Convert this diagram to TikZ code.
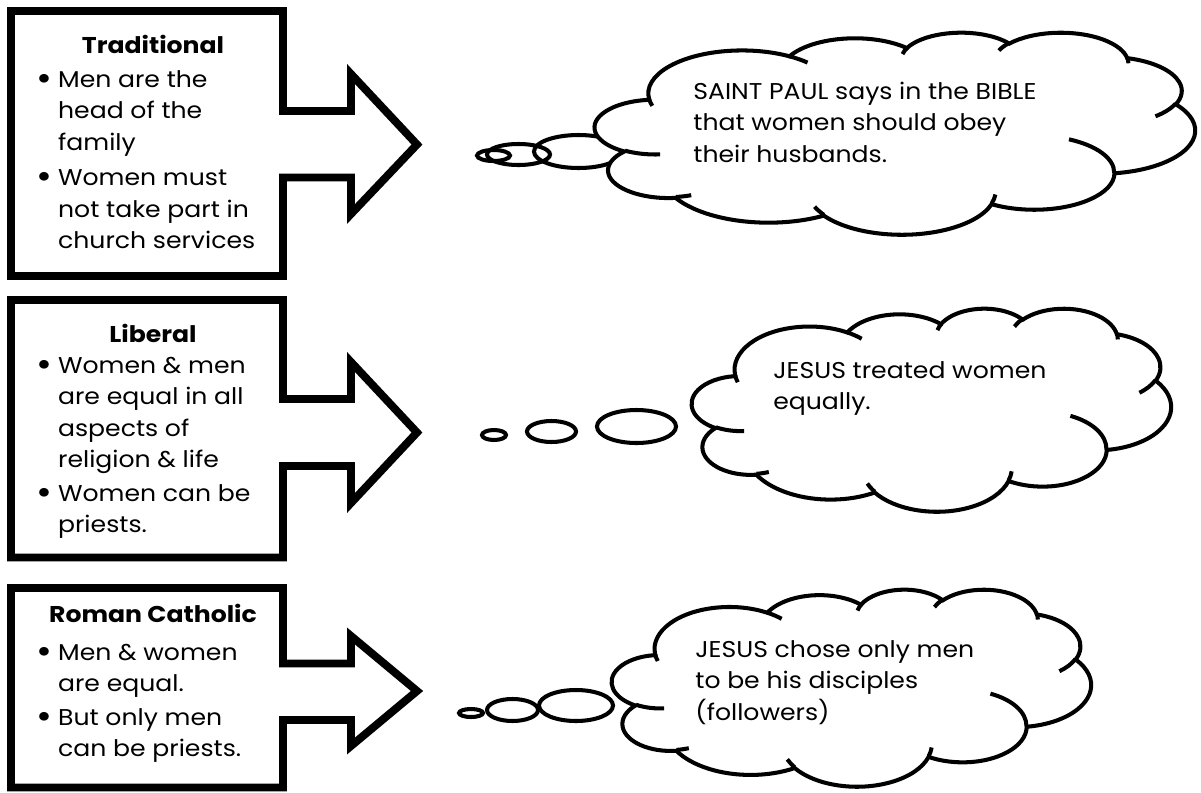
\documentclass[tikz,border=0pt]{standalone}
\usepackage{fontspec}
\setmainfont{Poppins}[FakeStretch=1.1]

\begin{document}
\begin{tikzpicture}[x=0.02cm, y=-0.02cm]
\useasboundingbox (0,0) rectangle (1201,792);

\tikzset{
  viewline/.style={line width=4.5pt, line join=miter, draw=black, fill=white},
  cloudline/.style={line width=2.3pt, draw=black},
  viewtitle/.style={anchor=base, inner sep=0pt, font=\fontsize{13}{18}\selectfont\bfseries},
  viewlist/.style={anchor=base west, inner sep=0pt, font=\fontsize{13}{18}\selectfont},
  thought/.style={anchor=base west, inner sep=0pt, font=\fontsize{13}{18}\selectfont},
  thoughtcloud/.pic={
    % outline of the cloud, eleven puffs
    \draw [cloudline, fill=white] (39.00,143.70)
      arc[start angle=-187.74, delta angle=128.10, x radius=67.53, y radius=91.90]
      arc[start angle=-152.02, delta angle=106.59, x radius=53.33, y radius=72.67]
      arc[start angle=-153.49, delta angle=116.17, x radius=43.65, y radius=59.45]
      arc[start angle=-139.69, delta angle=129.48, x radius=48.57, y radius=65.95]
      arc[start angle=-74.77, delta angle=97.98, x radius=53.33, y radius=72.73]
      arc[start angle=-37.52, delta angle=119.38, x radius=67.75, y radius=92.20]
      arc[start angle=0.46, delta angle=121.52, x radius=57.85, y radius=78.67]
      arc[start angle=16.84, delta angle=129.41, x radius=67.52, y radius=92.15]
      arc[start angle=58.98, delta angle=91.22, x radius=77.20, y radius=105.43]
      arc[start angle=83.31, delta angle=139.81, x radius=43.60, y radius=59.18]
      arc[start angle=120.35, delta angle=143.76, x radius=43.45, y radius=59.45]
      -- cycle;
    % short inner strokes
    \draw [cloudline] (46.93,261.77) arc[start angle=85.55, delta angle=34.80, x radius=43.45, y radius=59.45];
    \draw [cloudline] (69.28,348.99) arc[start angle=68.24, delta angle=15.07, x radius=43.60, y radius=59.18];
    \draw [cloudline] (164.78,390.90) arc[start angle=146.25, delta angle=12.22, x radius=67.52, y radius=92.15];
    \draw [cloudline] (288.27,347.51) arc[start angle=4.74, delta angle=12.10, x radius=67.52, y radius=92.15];
    \draw [cloudline] (341.29,229.54) arc[start angle=-64.03, delta angle=64.49, x radius=57.85, y radius=78.67];
    \draw [cloudline] (417.98,153.54) arc[start angle=23.21, delta angle=26.42, x radius=53.33, y radius=72.73];
    \draw [cloudline] (383.24,54.26) arc[start angle=-10.21, delta angle=11.03, x radius=48.57, y radius=65.95];
    \draw [cloudline] (290.78,39.52) arc[start angle=-156.28, delta angle=16.59, x radius=48.57, y radius=65.95];
    \draw [cloudline] (221.41,47.20) arc[start angle=-167.73, delta angle=14.24, x radius=43.65, y radius=59.45];
    \draw [cloudline] (140.00,51.92) arc[start angle=-59.64, delta angle=13.93, x radius=67.53, y radius=91.90];
    \draw [cloudline] (41.27,157.89) arc[start angle=163.19, delta angle=9.07, x radius=67.53, y radius=91.90];
  }
}

\newcommand{\bigdot}{\raisebox{-1.8pt}{\fontsize{20}{18}\selectfont\textbullet}}

% Views: box with block arrow
\draw [viewline] (11,11) -- (283,11) -- (283,111) -- (351,111) -- (351,74) -- (417,144.5)
  -- (351,214) -- (351,177.5) -- (283,177.5) -- (283,276) -- (11,276) -- cycle;
\draw [viewline] (11,300) -- (283,300) -- (283,399) -- (351,399) -- (351,362) -- (417,432.5)
  -- (351,503) -- (351,466) -- (283,466) -- (283,557.5) -- (11,557.5) -- cycle;
\draw [viewline] (11,588) -- (283,588) -- (283,663.5) -- (351,663.5) -- (351,636) -- (417,691)
  -- (351,746) -- (351,720) -- (283,720) -- (283,787.5) -- (11,787.5) -- cycle;

\node (trad-title) [viewtitle] at (153,53) {Traditional};
\node (trad-list) [viewlist] at (36,87) {\begin{tabular}[t]{@{}p{12.4pt}@{}l@{}}
  \bigdot & Men are the\\
          & head of the\\
          & family\\[2pt]
  \bigdot & Women must\\
          & not take part in\\
          & church services
  \end{tabular}};

\node (lib-title) [viewtitle] at (153,342) {Liberal};
\node (lib-list) [viewlist] at (36,373) {\begin{tabular}[t]{@{}p{12.4pt}@{}l@{}}
  \bigdot & Women \& men\\
          & are equal in all\\
          & aspects of\\
          & religion \& life\\[1pt]
  \bigdot & Women can be\\
          & priests.
  \end{tabular}};

\node (rc-title) [viewtitle] at (153,622) {Roman Catholic};
\node (rc-list) [viewlist] at (36,660) {\begin{tabular}[t]{@{}p{12.4pt}@{}l@{}}
  \bigdot & Men \& women\\
          & are equal.\\[1pt]
  \bigdot & But only men\\
          & can be priests.
  \end{tabular}};

% thought bubbles
\begin{scope}[cloudline]
    \draw (493.5,155.5) ellipse [x radius=16.5, y radius=5.5];
    \draw (518.5,154.5) ellipse [x radius=31.5, y radius=10.5];
    \draw (578.5,151.5) ellipse [x radius=44.5, y radius=16.5];

    \draw (494,435) ellipse [x radius=12, y radius=5];
    \draw (551.5,431.5) ellipse [x radius=24.5, y radius=10.5];
    \draw (636.5,426.5) ellipse [x radius=39.5, y radius=16.5];

    \draw (471,713) ellipse [x radius=12, y radius=4];
    \draw (512.5,710) ellipse [x radius=25.5, y radius=11];
    \draw (576,705.5) ellipse [x radius=37, y radius=15.5];
\end{scope}

% clouds
\pic [xscale=1.3889, yscale=0.4676] at (595,32) {thoughtcloud};
\pic [xscale=1.1088, yscale=0.4699] at (692,308) {thoughtcloud};
\pic [xscale=1.1088, yscale=0.4560] at (612,589) {thoughtcloud};

\node (trad-thought) [thought] at (693,99) {\begin{tabular}[t]{@{}l@{}}
  SAINT PAUL says in the BIBLE\\
  that women should obey\\
  their husbands.
  \end{tabular}};
\node (lib-thought) [thought] at (773,378) {\begin{tabular}[t]{@{}l@{}}
  JESUS treated women\\
  equally.
  \end{tabular}};
\node (rc-thought) [thought] at (695,657) {\begin{tabular}[t]{@{}l@{}}
  JESUS chose only men\\
  to be his disciples\\
  (followers)
  \end{tabular}};

\end{tikzpicture}
\end{document}
